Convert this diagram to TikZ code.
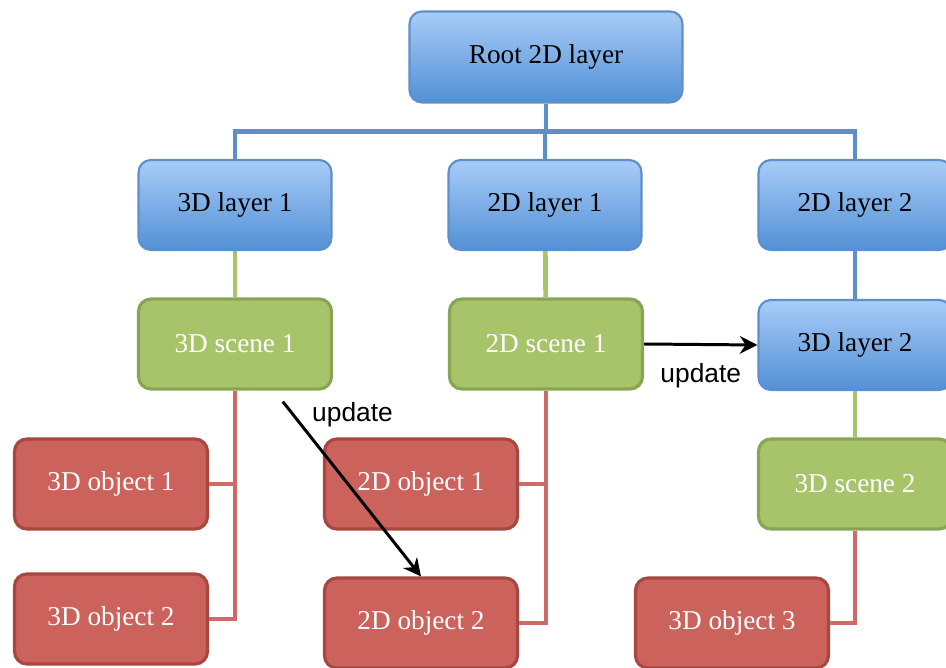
\documentclass[tikz,border=0pt]{standalone}
\usepackage{fontspec}
\setmainfont{Liberation Serif}
\setsansfont{Liberation Sans}
\usetikzlibrary{arrows.meta}
\definecolor{layertop}{HTML}{A8CCF7}
\definecolor{layerbottom}{HTML}{5290D6}
\definecolor{layerdraw}{HTML}{5F8FCA}
\definecolor{scenefill}{HTML}{A8C46B}
\definecolor{scenedraw}{HTML}{88A455}
\definecolor{objectfill}{HTML}{CC625C}
\definecolor{objectdraw}{HTML}{A8473F}
\definecolor{objectline}{HTML}{D06A66}
\tikzset{
    box node/.style={rectangle, rounded corners=7pt, minimum width=3.86cm, minimum height=1.8cm, inner sep=2pt, font=\fontsize{15.5}{18}\selectfont},
    layer node/.style={box node, draw=layerdraw, line width=1.2pt, top color=layertop, bottom color=layerbottom, text=black},
    scene node/.style={box node, draw=scenedraw, line width=1.8pt, fill=scenefill, text=white},
    object node/.style={box node, draw=objectdraw, line width=1.8pt, fill=objectfill, text=white},
    layer link/.style={draw=layerdraw, line width=2.7pt},
    scene link/.style={draw=scenefill, line width=2.7pt},
    object link/.style={draw=objectline, line width=2.7pt},
    update arrow/.style={-{Stealth[length=10pt, width=10pt]}, line width=1.7pt, black},
    update label/.style={font=\sffamily\fontsize{15}{18}\selectfont, inner sep=2pt},
}

\begin{document}
\begin{tikzpicture}[x=0.02cm, y=-0.02cm]
    \useasboundingbox (0,0) rectangle (946,668);
    % layers
    \node[layer node, minimum width=5.46cm, minimum height=1.82cm] (root) at (546,57) {Root 2D layer};
    \node[layer node] (l3d1) at (235,205) {3D layer 1};
    \node[layer node] (l2d1) at (545,205) {2D layer 1};
    \node[layer node] (l2d2) at (855,205) {2D layer 2};
    \node[layer node] (l3d2) at (855,345) {3D layer 2};
    % scenes
    \node[scene node] (s3d1) at (235,344) {3D scene 1};
    \node[scene node] (s2d1) at (546,344) {2D scene 1};
    \node[scene node] (s3d2) at (855,484) {3D scene 2};
    % objects
    \node[object node] (o3d1) at (111,484) {3D object 1};
    \node[object node] (o3d2) at (111,619) {3D object 2};
    \node[object node] (o2d1) at (421,484) {2D object 1};
    \node[object node] (o2d2) at (421,623) {2D object 2};
    \node[object node] (o3d3) at (732,623) {3D object 3};

    \draw[layer link] (root.south) -- ++(0,28) -| (l3d1.north);
    \draw[layer link] (root.south) -- ++(0,28) -| (l2d1.north);
    \draw[layer link] (root.south) -- ++(0,28) -| (l2d2.north);
    \draw[layer link] (l2d2) -- (l3d2);

    \draw[scene link] (l3d1) -- (s3d1);
    \draw[scene link] (l2d1) -- (s2d1);
    \draw[scene link] (l3d2) -- (s3d2);

    \draw[object link] (s3d1.south) |- (o3d1.east);
    \draw[object link] (s3d1.south) |- (o3d2.east);
    \draw[object link] (s2d1.south) |- (o2d1.east);
    \draw[object link] (s2d1.south) |- (o2d2.east);
    \draw[object link] (s3d2.south) |- (o3d3.east);

    % updates
    \draw[update arrow, shorten <=8pt] (s3d1.-50) -- node[update label, pos=0.13, anchor=west, xshift=8pt] {update} (o2d2.north);
    \draw[update arrow] (s2d1.east) -- node[update label, below=8pt] {update} (l3d2.west);
\end{tikzpicture}
\end{document}
